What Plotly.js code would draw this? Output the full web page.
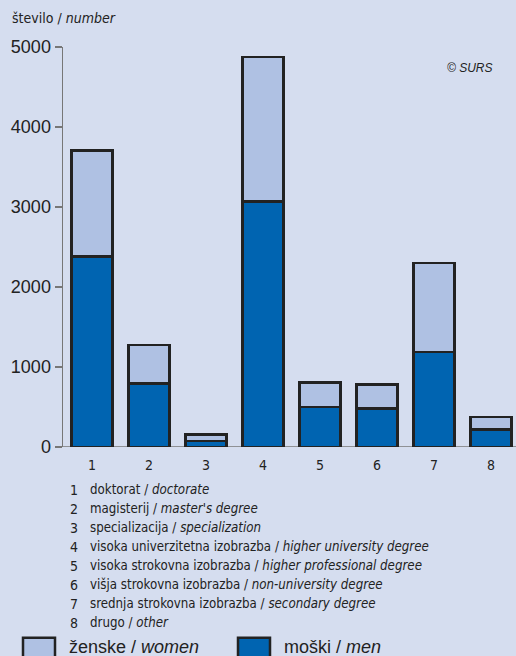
<!DOCTYPE html>
<html>
<head>
<meta charset="utf-8">
<script src="https://cdn.plot.ly/plotly-3.0.1.min.js"></script>
<style>html,body{margin:0;padding:0;background:#d5ddef;}#chart{width:516px;height:656px;}</style>
</head>
<body>
<div id="chart"></div>
<script>
const categories = [1, 2, 3, 4, 5, 6, 7, 8];
const tickLabels = ['1', '2', '3', '4', '5', '6', '7', '8'];
const men   = [2384, 795, 75, 3071, 503, 483, 1186, 221];
const total = [3708, 1273, 154, 4873, 808, 783, 2297, 378];
const women = total.map((t, i) => t - men[i]);
const namesSl = ['doktorat', 'magisterij', 'specializacija', 'visoka univerzitetna izobrazba',
  'visoka strokovna izobrazba', 'višja strokovna izobrazba', 'srednja strokovna izobrazba', 'drugo'];
const namesEn = ['doctorate', "master's degree", 'specialization', 'higher university degree',
  'higher professional degree', 'non-university degree', 'secondary degree', 'other'];
const yTicks = [0, 1000, 2000, 3000, 4000, 5000];

const BG = '#d5ddef';
const MEN = '#0064b1';
const WOMEN = '#afc1e3';
const NARROW = '"DejaVu Sans Condensed", "Liberation Sans Narrow", Arial, sans-serif';
const SANS = '"Liberation Sans", Arial, sans-serif';

const traces = [
  {type: 'bar', x: categories, y: men, name: 'moški / men',
   marker: {color: MEN, line: {color: '#222', width: 2.5}}, hoverinfo: 'y'},
  {type: 'bar', x: categories, y: women, name: 'ženske / women',
   marker: {color: WOMEN, line: {color: '#222', width: 2.5}}, hoverinfo: 'y'}
];

function px2x(p) { return (p - 63) / 453; }
function py2y(p) { return 1 - (p - 46.7) / 400.3; }

const annotations = [
  {xref: 'paper', yref: 'paper', x: px2x(10), y: py2y(18), xanchor: 'left', yanchor: 'middle',
   text: 'število / <i>number</i>', showarrow: false, font: {family: NARROW, size: 14, color: '#222'}},
  {xref: 'paper', yref: 'paper', x: px2x(495), y: py2y(68), xanchor: 'right', yanchor: 'middle',
   text: '<i>© SURS</i>', showarrow: false, font: {family: SANS, size: 12, color: '#222'}}
];
const lineY0 = 490, lineStep = 19;
categories.forEach((c, i) => {
  const yy = py2y(lineY0 + i * lineStep);
  annotations.push({xref: 'paper', yref: 'paper', x: px2x(80), y: yy, xanchor: 'right', yanchor: 'middle',
    text: String(c), showarrow: false, font: {family: NARROW, size: 14, color: '#222'}});
  annotations.push({xref: 'paper', yref: 'paper', x: px2x(88), y: yy, xanchor: 'left', yanchor: 'middle',
    text: namesSl[i] + ' / <i>' + namesEn[i] + '</i>', showarrow: false, font: {family: NARROW, size: 13.2, color: '#222'}});
});
const legY = py2y(647);
annotations.push({xref: 'paper', yref: 'paper', x: px2x(67), y: legY, xanchor: 'left', yanchor: 'middle',
  text: 'ženske / <i>women</i>', showarrow: false, font: {family: SANS, size: 18, color: '#222'}});
annotations.push({xref: 'paper', yref: 'paper', x: px2x(282), y: legY, xanchor: 'left', yanchor: 'middle',
  text: 'moški / <i>men</i>', showarrow: false, font: {family: SANS, size: 18, color: '#222'}});

const shapes = [
  {type: 'rect', xref: 'paper', yref: 'paper', x0: px2x(23), x1: px2x(55), y0: py2y(662), y1: py2y(638),
   fillcolor: WOMEN, line: {color: '#222', width: 2.5}},
  {type: 'rect', xref: 'paper', yref: 'paper', x0: px2x(238), x1: px2x(270), y0: py2y(662), y1: py2y(638),
   fillcolor: MEN, line: {color: '#222', width: 2.5}},
  {type: 'line', xref: 'paper', yref: 'y', x0: px2x(56), x1: 1, y0: 0, y1: 0, line: {color: '#777', width: 1.5}, layer: 'below'}
];

const layout = {
  width: 516, height: 656,
  margin: {l: 63, r: 0, t: 46.7, b: 209},
  paper_bgcolor: BG, plot_bgcolor: BG,
  barmode: 'stack', bargap: 0.28,
  showlegend: false,
  xaxis: {range: [0.49, 8.44], tickvals: categories, ticktext: tickLabels, showgrid: false, zeroline: false,
    showline: false, ticks: '', ticklabelstandoff: 8, tickfont: {family: NARROW, size: 14, color: '#222'}, fixedrange: true},
  yaxis: {range: [0, 5000], tickvals: yTicks, showgrid: false, zeroline: false,
    showline: true, linecolor: '#777', linewidth: 1.5, ticks: 'outside', ticklen: 7, tickcolor: '#777', tickwidth: 1.5,
    tickfont: {family: SANS, size: 18, color: '#222'}, fixedrange: true},
  annotations: annotations,
  shapes: shapes
};

Plotly.newPlot('chart', traces, layout, {displayModeBar: false, staticPlot: true});
</script>
</body>
</html>
